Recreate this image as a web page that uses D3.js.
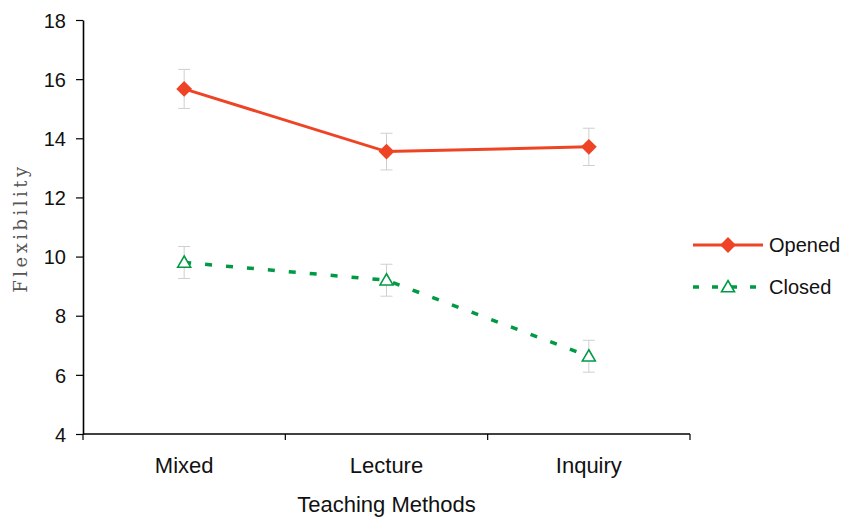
<!DOCTYPE html>
<html>
<head>
<meta charset="utf-8">
<script src="https://cdn.jsdelivr.net/npm/d3@7"></script>
<style>
  body { margin: 0; background: #fff; }
  text { font-family: "Liberation Sans", Arial, sans-serif; }
</style>
</head>
<body>
<div id="chart"></div>
<script>
// chart values
const methods = ["Mixed", "Lecture", "Inquiry"];
const openedMeans = [15.67, 13.55, 13.71];
const openedErr = [0.66, 0.62, 0.63];
const closedMeans = [9.8, 9.2, 6.63];
const closedErr = [0.54, 0.54, 0.54];
const yTicks = [4, 6, 8, 10, 12, 14, 16, 18];

const width = 849, height = 518;
const margin = { top: 20, left: 83, right: 159, bottom: 84 };

const svg = d3.select("#chart").append("svg")
    .attr("width", width)
    .attr("height", height);

const x = d3.scaleBand()
    .domain(methods)
    .range([margin.left, width - margin.right]);

const y = d3.scaleLinear()
    .domain([4, 18])
    .range([height - margin.bottom, margin.top]);

const cx = d => x(d) + x.bandwidth() / 2;

// y axis
const yAxis = svg.append("g")
    .attr("transform", `translate(${margin.left},0)`)
    .call(d3.axisLeft(y).tickValues(yTicks).tickSize(7).tickSizeOuter(0));
yAxis.select(".domain").attr("stroke", "#000").attr("stroke-width", 1.6);
yAxis.selectAll(".tick line").attr("stroke", "#000").attr("stroke-width", 1.2);
yAxis.selectAll("text")
    .attr("font-size", 20)
    .attr("fill", "#111")
    .attr("x", -17)
    .attr("dy", "0.36em");

// x axis, ticks on the band edges
const xAxisY = height - margin.bottom;
svg.append("line")
    .attr("x1", margin.left).attr("x2", width - margin.right)
    .attr("y1", xAxisY).attr("y2", xAxisY)
    .attr("stroke", "#000").attr("stroke-width", 1.6);
const edges = methods.map(m => x(m)).concat([x(methods[methods.length - 1]) + x.bandwidth()]);
svg.selectAll(".xtick")
    .data(edges)
    .join("line")
    .attr("class", "xtick")
    .attr("x1", d => d).attr("x2", d => d)
    .attr("y1", xAxisY).attr("y2", xAxisY + 6)
    .attr("stroke", "#000").attr("stroke-width", 1.2);
svg.selectAll(".xlabel")
    .data(methods)
    .join("text")
    .attr("class", "xlabel")
    .attr("x", d => cx(d))
    .attr("y", 473)
    .attr("text-anchor", "middle")
    .attr("font-size", 22)
    .attr("fill", "#111")
    .text(d => d);

// axis titles
svg.append("text")
    .attr("x", cx(methods[1]))
    .attr("y", 512)
    .attr("text-anchor", "middle")
    .attr("font-size", 22)
    .attr("fill", "#111")
    .text("Teaching Methods");

svg.append("text")
    .attr("transform", `translate(27,228) rotate(-90)`)
    .attr("text-anchor", "middle")
    .attr("font-size", 18)
    .attr("letter-spacing", "3.5px")
    .style("font-family", "'DejaVu Serif', 'Liberation Serif', serif")
    .attr("fill", "#555")
    .text("Flexibility");

// error bars
function errorBars(means, errs) {
    const g = svg.append("g");
    methods.forEach((m, i) => {
        const hi = y(means[i] + errs[i]), lo = y(means[i] - errs[i]);
        g.append("line").attr("x1", cx(m)).attr("x2", cx(m)).attr("y1", hi).attr("y2", lo);
        g.append("line").attr("x1", cx(m) - 6).attr("x2", cx(m) + 6).attr("y1", hi).attr("y2", hi);
        g.append("line").attr("x1", cx(m) - 6).attr("x2", cx(m) + 6).attr("y1", lo).attr("y2", lo);
    });
    g.selectAll("line").attr("stroke", "#cfcfcf").attr("stroke-width", 1);
}
errorBars(openedMeans, openedErr);
errorBars(closedMeans, closedErr);

const red = "#ee4425", green = "#009a44";
const line = d3.line().x((d, i) => cx(methods[i])).y(d => y(d));

svg.append("path")
    .datum(openedMeans)
    .attr("d", line)
    .attr("fill", "none")
    .attr("stroke", red)
    .attr("stroke-width", 3);

svg.append("path")
    .datum(closedMeans)
    .attr("d", line)
    .attr("fill", "none")
    .attr("stroke", green)
    .attr("stroke-width", 3.5)
    .attr("stroke-dasharray", "7,14");

const diamond = d3.symbol().type(d3.symbolDiamond2).size(160);
const tri = d3.symbol().type(d3.symbolTriangle2).size(120);

svg.selectAll(".dmark")
    .data(openedMeans)
    .join("path")
    .attr("class", "dmark")
    .attr("d", diamond)
    .attr("transform", (d, i) => `translate(${cx(methods[i])},${y(d)})`)
    .attr("fill", red);

svg.selectAll(".tmark")
    .data(closedMeans)
    .join("path")
    .attr("class", "tmark")
    .attr("d", tri)
    .attr("transform", (d, i) => `translate(${cx(methods[i])},${y(d) + 1})`)
    .attr("fill", "#fff")
    .attr("stroke", green)
    .attr("stroke-width", 1.6);

// legend
const legend = svg.append("g").attr("transform", "translate(693,245)");
legend.append("line").attr("x1", 0).attr("x2", 70).attr("y1", 0).attr("y2", 0)
    .attr("stroke", red).attr("stroke-width", 3);
legend.append("path").attr("d", diamond).attr("transform", "translate(35,0)").attr("fill", red);
legend.append("text").attr("x", 76).attr("y", 0).attr("dy", "0.36em")
    .attr("font-size", 20).attr("fill", "#111").text("Opened");

legend.append("line").attr("x1", 0).attr("x2", 70).attr("y1", 42).attr("y2", 42)
    .attr("stroke", green).attr("stroke-width", 3.5).attr("stroke-dasharray", "6,13");
legend.append("path").attr("d", tri).attr("transform", "translate(35,43)")
    .attr("fill", "#fff").attr("stroke", green).attr("stroke-width", 1.6);
legend.append("text").attr("x", 76).attr("y", 42).attr("dy", "0.36em")
    .attr("font-size", 20).attr("fill", "#111").text("Closed");
</script>
</body>
</html>
